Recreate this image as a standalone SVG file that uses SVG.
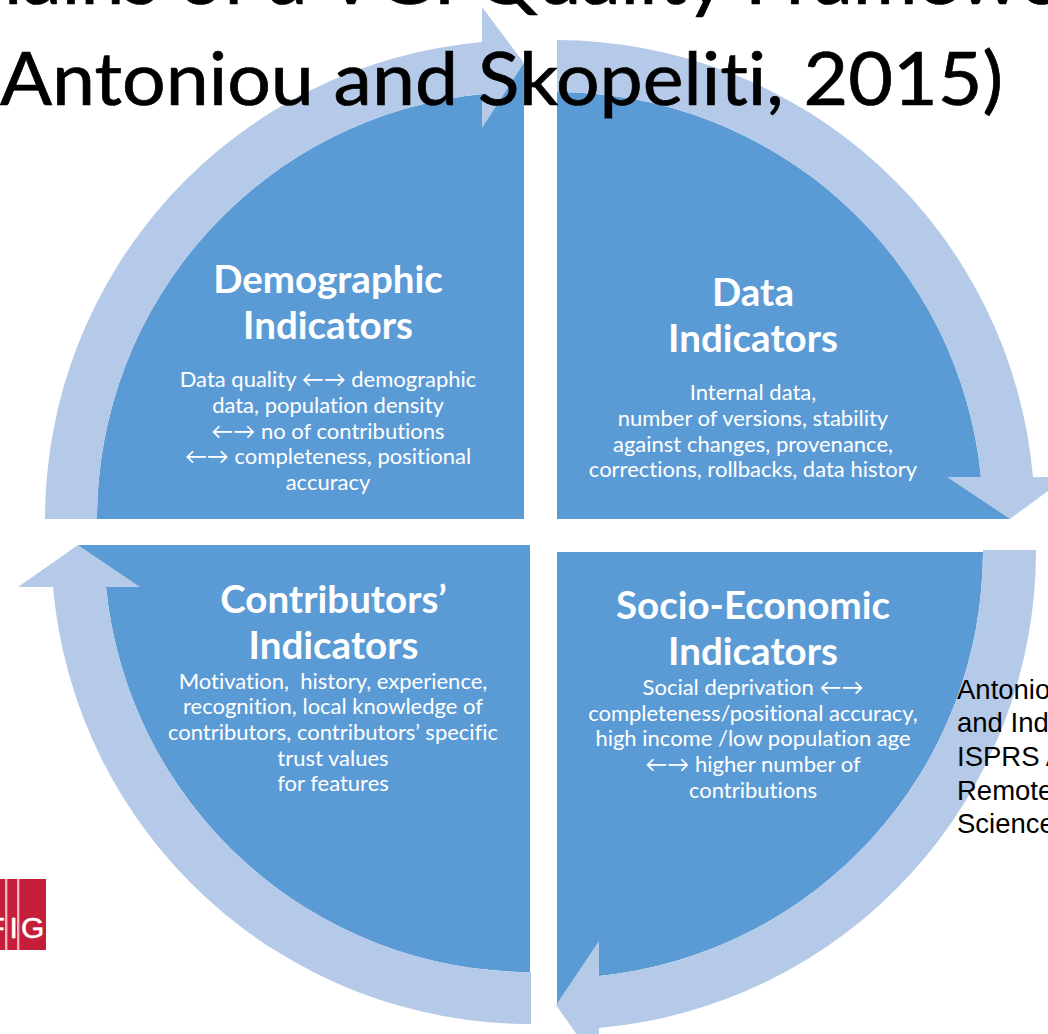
<svg xmlns="http://www.w3.org/2000/svg" width="1048" height="1034" viewBox="0 0 1048 1034">
<style>
text{font-variant-ligatures:none;white-space:pre}
.q{fill:#5B9BD5}
.r{fill:#B5CAE8}
.h{font-family:Lato,"Liberation Sans",sans-serif;font-weight:700;font-size:38.5px;fill:#fff;text-anchor:middle}
.b{font-family:Lato,"Liberation Sans",sans-serif;font-size:22px;fill:#fff;text-anchor:middle}
.t{font-family:Lato,"Liberation Sans",sans-serif;font-size:74px;fill:#000;stroke:#000;stroke-width:.7}
.n{font-family:"Liberation Sans",Arial,sans-serif;font-size:27.5px;fill:#000}
</style>
<rect width="1048" height="1034" fill="#fff"/>
<g id="logo"><rect x="0" y="879" width="46" height="71" fill="#C41E3A"/><rect x="5" y="879" width="2.4" height="71" fill="#EDB4BE"/><rect x="17" y="879" width="2.4" height="71" fill="#EDB4BE"/>
<text x="-13.5 9.5 21" y="938" font-family="Liberation Sans,sans-serif" font-size="30" fill="#fff" stroke="#fff" stroke-width=".5">FIG</text></g>
<g id="demographic">
<path class="q" d="M97 519A427 427 0 0 1 482 94L524 63V519Z"/>
<path class="r" d="M45 519A479 479 0 0 1 482 42V7L524 63L482 128V94A427 427 0 0 0 97 519Z"/>
<text class="h" x="328" y="293">Demographic</text><text class="h" x="328" y="339">Indicators</text>
<text class="b" x="328" y="387">Data quality ←→ demographic</text><text class="b" x="328" y="413">data, population density</text><text class="b" x="328" y="439">←→ no of contributions</text><text class="b" x="328" y="464">←→ completeness, positional</text><text class="b" x="328" y="490">accuracy</text>
</g>
<g id="data">
<path class="q" d="M557 92A427 427 0 0 1 981 477L1010 519H557Z"/>
<path class="r" d="M557 40A479 479 0 0 1 1033 477H1067L1010 519L947 477H981A427 427 0 0 0 557 92Z"/>
<text class="h" x="753" y="306">Data</text><text class="h" x="753" y="352">Indicators</text>
<text class="b" x="753" y="400">Internal data,</text><text class="b" x="753" y="426">number of versions, stability</text><text class="b" x="753" y="452">against changes, provenance,</text><text class="b" x="753" y="477">corrections, rollbacks, data history</text>
</g>
<g id="socio-economic">
<path class="q" d="M557 552H983A427 427 0 0 1 599 976L557 1005Z"/>
<path class="r" d="M983 550H1036A479 479 0 0 1 599 1028V1066L556 1005L599 941V976A427 427 0 0 0 983 550Z"/>
<text class="h" x="753" y="619">Socio-Economic</text><text class="h" x="753" y="665">Indicators</text>
<text class="b" x="753" y="695">Social deprivation ←→</text><text class="b" x="753" y="721">completeness/positional accuracy,</text><text class="b" x="753" y="746">high income /low population age</text><text class="b" x="753" y="772">←→ higher number of</text><text class="b" x="753" y="798">contributions</text>
</g>
<g id="contributors">
<path class="q" d="M78 545H530V972A427 427 0 0 1 106 587Z"/>
<path class="r" d="M531 1024A479 479 0 0 1 53 587H18L78 545L140 587H106A427 427 0 0 0 531 972Z"/>
<text class="h" x="333.5" y="613">Contributors’</text><text class="h" x="333.5" y="659">Indicators</text>
<text class="b" x="333" y="689">Motivation,  history, experience,</text><text class="b" x="333" y="714">recognition, local knowledge of</text><text class="b" x="333" y="740">contributors, contributors’ specific</text><text class="b" x="333" y="766">trust values</text><text class="b" x="333" y="791">for features</text>
</g>
<g id="title">
<text class="t" x="4" y="4" textLength="1060" lengthAdjust="spacingAndGlyphs">lains of a VGI Quality Framewo</text>
<text class="t" x="0" y="105" textLength="1003" lengthAdjust="spacingAndGlyphs">Antoniou and Skopeliti, 2015)</text>
</g>
<g id="note">
<text class="n" x="957" y="699">Antonio</text><text class="n" x="957" y="732">and Ind</text><text class="n" x="957" y="766">ISPRS A</text><text class="n" x="957" y="800">Remote</text><text class="n" x="957" y="833">Science</text>
</g>
</svg>
